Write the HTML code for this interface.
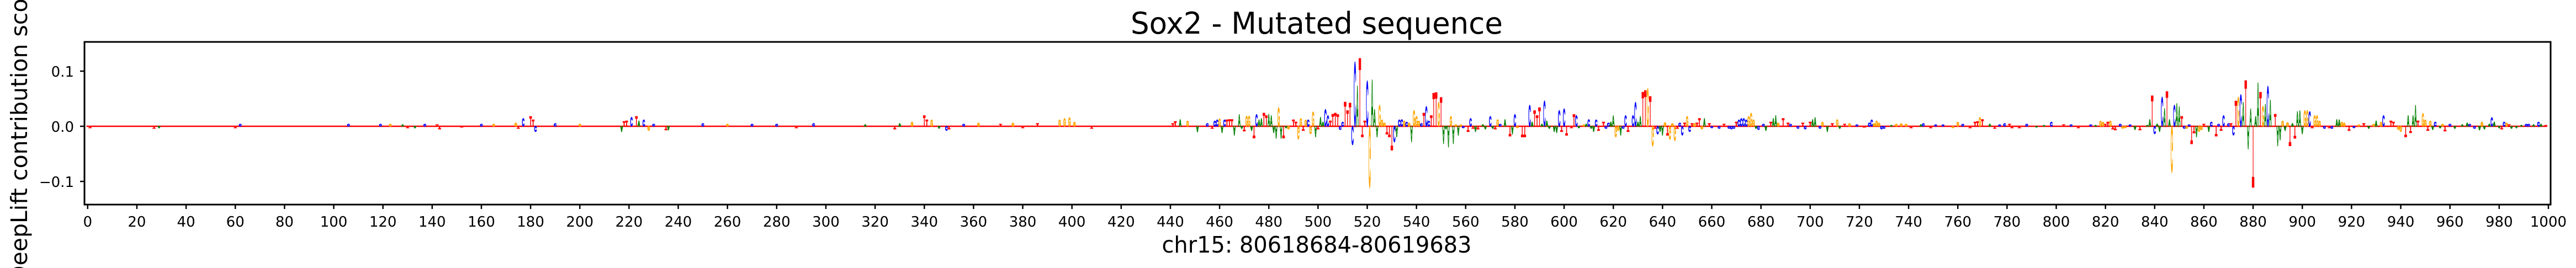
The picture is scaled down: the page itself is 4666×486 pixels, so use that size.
<!DOCTYPE html>
<html><head><meta charset="utf-8"><title>Sox2 - Mutated sequence</title>
<style>html,body{margin:0;padding:0;background:#fff;overflow:hidden;width:4666px;height:486px;}svg{display:block;overflow:hidden;}text{font-family:"DejaVu Sans","Liberation Sans",sans-serif;}</style>
</head><body>
<svg id="chart" xmlns="http://www.w3.org/2000/svg" width="4666" height="486" viewBox="0 0 4666 486">
<rect width="4666" height="486" fill="#fff"/>
<text x="2385" y="61" font-size="54" text-anchor="middle" textLength="674" lengthAdjust="spacingAndGlyphs">Sox2 - Mutated sequence</text>
<text x="2385" y="458" font-size="41" text-anchor="middle" textLength="561" lengthAdjust="spacingAndGlyphs">chr15: 80618684-80619683</text>
<text transform="translate(49,224) rotate(-90)" font-size="41" text-anchor="middle">DeepLift contribution scores</text>
<g id="plot"></g>
<g id="axes"></g>
</svg>
<script>
const categories = ["A","C","G","T"];
const baseColors = ["#008000","#0000ff","#ffa500","#ff0000"];
const xTickValues = [0,20,40,60,80,100,120,140,160,180,200,220,240,260,280,300,320,340,360,380,400,420,440,460,480,500,520,540,560,580,600,620,640,660,680,700,720,740,760,780,800,820,840,860,880,900,920,940,960,980,1000];
const yTickValues = [-0.1,0.0,0.1];
const yTickLabels = ["\u22120.1","0.0","0.1"];
const logoEntries = [
[1,'T',-0.003],[27,'T',-0.004],[29,'A',-0.003],[60,'T',-0.003],[62,'C',0.004],[106,'C',0.004],[119,'C',0.004],[123,'G',0.004],[128,'A',0.003],[130,'T',-0.003],[133,'A',-0.003],[137,'C',0.004],[142,'T',0.003],[143,'T',-0.005],
[152,'T',-0.002],[160,'C',0.004],[165,'G',0.004],[174,'G',0.006],[175,'T',-0.004],[177,'C',0.015],[180,'T',0.018],[181,'T',0.012],[182,'C',-0.01],[190,'C',0.005],[200,'G',0.004],
[217,'A',-0.01],[218,'T',0.009],[219,'T',0.01],[221,'C',0.017],[223,'T',0.018],[224,'A',0.01],[226,'C',0.012],[228,'G',-0.008],[230,'C',0.004],[235,'T',-0.007],[236,'A',-0.007],[250,'C',0.005],[260,'G',0.004],[270,'C',0.004],[280,'C',0.004],[288,'T',-0.003],[295,'C',0.005],
[316,'A',0.003],[328,'T',-0.005],[330,'A',0.005],[335,'G',0.008],[340,'T',0.02],[341,'T',0.012],[343,'G',0.012],[346,'A',-0.004],[349,'C',-0.008],[350,'T',-0.005],[356,'C',0.004],[362,'G',0.006],[371,'T',0.004],[376,'G',0.006],[380,'T',-0.003],[386,'T',0.005],[395,'G',0.012],[397,'G',0.015],[399,'G',0.016],[401,'G',0.008],[408,'T',-0.004],
[441,'T',0.005],[442,'T',0.009],[444,'A',0.013],[447,'G',0.01],[451,'A',-0.011],[455,'C',0.005],[457,'T',-0.004],[458,'C',0.01],[459,'C',0.012],[460,'G',0.014],[461,'A',-0.012],[462,'C',0.012],[463,'T',0.012],[464,'T',0.013],[465,'T',0.013],[466,'A',-0.017],[468,'A',0.022],[469,'A',-0.004],[470,'T',-0.009],[471,'G',0.019],[472,'G',0.019],[473,'A',-0.008],[474,'T',-0.022],[475,'C',0.022],[476,'A',0.012],[477,'A',0.015],[478,'T',0.025],[479,'T',0.02],[480,'A',0.023],[481,'A',0.02],[482,'A',-0.012],[483,'A',-0.023],[484,'G',0.035],[485,'A',-0.023],[486,'T',-0.022],[487,'A',-0.003],[488,'G',-0.005],[490,'T',0.012],[491,'T',0.008],[492,'G',-0.024],[493,'G',0.015],[494,'T',-0.008],[495,'G',0.012],[496,'C',0.012],[497,'G',-0.014],[498,'G',0.027],[499,'A',-0.02],[500,'T',-0.005],[501,'A',0.017],[502,'A',0.008],[503,'C',0.032],[504,'C',0.02],[505,'T',0.01],[506,'T',0.023],[507,'T',0.025],[508,'T',0.022],[509,'C',-0.006],[510,'C',0.008],[511,'T',0.046],[512,'T',0.03],[513,'T',0.044],[514,'C',-0.035],[515,'C',0.122],[516,'A',0.077],[517,'T',0.130],[518,'T',-0.02],[519,'T',0.01],[520,'C',0.086],[521,'G',-0.117],[522,'A',0.089],
[523,'A',0.032],[524,'A',-0.02],[525,'G',0.04],[526,'G',0.012],[527,'G',0.006],[528,'T',-0.015],[529,'T',-0.02],[530,'T',-0.045],[531,'C',-0.03],[532,'A',-0.02],[533,'C',0.012],[534,'C',0.013],[535,'G',0.01],[536,'C',0.008],[537,'G',0.006],[538,'A',-0.03],[539,'G',0.03],[540,'G',0.018],[541,'G',0.01],[542,'C',0.005],[543,'T',0.025],[544,'C',0.037],[545,'C',0.01],[546,'T',0.02],[547,'T',0.063],[548,'T',0.064],[549,'G',0.045],[550,'T',0.055],[551,'A',-0.033],[552,'A',-0.005],[553,'A',-0.04],[554,'G',0.018],[555,'A',-0.033],[556,'G',0.003],[557,'A',-0.017],[558,'G',0.003],[559,'C',-0.003],[561,'T',-0.01],[562,'C',0.015],[563,'T',-0.004],[564,'A',-0.01],[565,'T',-0.005],[567,'A',0.003],[568,'A',-0.005],[570,'C',0.018],[571,'A',-0.004],[572,'T',-0.005],[573,'G',0.013],[574,'C',0.004],[576,'A',0.013],[578,'T',-0.018],[579,'A',-0.015],[580,'C',0.022],[581,'G',-0.003],[583,'T',-0.02],[584,'T',-0.02],[586,'C',0.04],[587,'A',0.008],[588,'T',0.03],[589,'T',0.02],[590,'T',0.035],[591,'A',0.004],[592,'C',0.048],[593,'A',0.01],[594,'A',-0.004],[596,'A',-0.01],[597,'A',-0.012],[598,'C',0.03],[599,'T',-0.01],[600,'C',0.033],[601,'T',-0.017],[603,'T',-0.003],[604,'T',0.022],[605,'C',0.02],[606,'A',-0.003],[608,'G',0.003],[609,'A',0.004],[610,'C',0.013],[611,'A',-0.004],[612,'A',-0.01],
[613,'C',0.012],[614,'T',-0.008],[616,'T',0.008],[617,'C',-0.004],[618,'C',0.006],[619,'A',0.008],[620,'A',0.02],[621,'G',-0.02],[622,'G',-0.008],[623,'A',-0.017],[624,'C',-0.004],[625,'C',0.02],[626,'T',-0.01],[628,'C',0.02],[629,'C',0.045],[630,'A',0.008],[631,'A',0.018],[632,'T',0.065],[633,'T',0.068],[634,'G',0.072],[635,'T',0.057],[636,'G',-0.037],[637,'T',-0.004],[638,'C',-0.015],[639,'A',-0.01],[640,'A',-0.017],[641,'G',0.007],[642,'T',-0.017],[643,'G',-0.025],[644,'G',0.005],[645,'G',-0.027],[646,'T',-0.004],[647,'C',0.006],[648,'C',-0.017],[649,'T',0.006],[650,'G',0.018],[651,'C',-0.01],[652,'T',0.005],[653,'G',0.005],[654,'T',0.006],[655,'T',0.015],[656,'G',-0.005],[657,'A',0.015],[659,'T',0.005],[660,'C',-0.003],[663,'C',-0.004],[665,'T',0.004],[667,'C',-0.004],[668,'C',-0.005],[669,'C',-0.004],[670,'T',0.008],[671,'C',0.012],[672,'C',0.015],[673,'C',0.015],[674,'C',0.012],[675,'G',0.018],[676,'G',0.025],[677,'G',0.012],[678,'A',-0.004],[679,'C',-0.006],[681,'C',0.004],[682,'A',-0.008],[684,'T',0.008],[685,'A',0.015],[686,'A',0.02],[687,'G',0.006],[689,'T',0.015],[691,'T',0.006],[692,'C',0.004],[695,'C',-0.004],[697,'T',0.006],[698,'C',-0.005],[700,'T',0.008],[701,'A',0.013],[702,'A',0.016],[704,'C',-0.004],[705,'G',0.008],[707,'A',-0.01],[709,'T',0.005],[711,'G',0.013],[712,'A',-0.004],[714,'T',0.004],[716,'G',0.005],
[719,'C',0.003],[722,'T',-0.002],[724,'C',0.006],[725,'C',0.012],[726,'G',0.005],[727,'G',0.01],[728,'G',0.006],[729,'C',-0.005],[730,'C',-0.004],[733,'A',0.002],[735,'G',0.004],[737,'G',0.005],[739,'G',0.004],[741,'T',-0.003],[745,'A',0.003],[746,'C',0.005],[749,'T',-0.003],[751,'C',0.003],[754,'C',0.003],[758,'G',-0.003],[760,'G',0.008],[762,'C',0.004],[765,'T',-0.003],[767,'T',0.008],[768,'T',0.009],[769,'G',0.017],[770,'T',0.013],[773,'A',0.004],[775,'T',-0.004],[777,'C',0.003],[779,'C',0.005],[781,'T',0.004],[782,'T',-0.003],[785,'T',-0.003],[788,'C',0.004],[792,'A',-0.002],[795,'A',0.002],[798,'C',0.008],[803,'T',0.003],[806,'C',0.003],[809,'T',-0.003],
[814,'C',0.003],[816,'A',0.002],[818,'G',0.01],[819,'G',0.008],[820,'T',0.004],[821,'T',0.008],[822,'G',0.01],[823,'T',-0.005],[824,'T',-0.007],[826,'C',0.004],[827,'G',-0.004],[828,'G',-0.003],[830,'C',0.003],[832,'A',-0.006],[834,'T',-0.007],[837,'A',0.002],[838,'A',0.013],[839,'T',0.058],[840,'C',-0.014],[841,'A',0.004],[842,'A',-0.01],[843,'C',0.055],[844,'A',0.034],[845,'T',0.066],[846,'A',0.013],[847,'G',-0.087],[848,'C',0.04],[849,'A',0.043],[850,'A',0.037],[851,'T',0.018],[852,'C',-0.004],[853,'G',-0.004],[854,'C',0.003],[855,'T',-0.033],[856,'T',-0.013],[857,'A',-0.02],[858,'G',-0.01],[859,'G',-0.007],[860,'T',0.004],[862,'A',-0.01],[863,'C',0.008],[865,'T',-0.018],[866,'C',0.004],[867,'T',-0.008],[868,'C',0.02],[870,'C',0.005],[871,'T',0.005],[872,'C',-0.017],[873,'T',0.048],[874,'G',0.055],[875,'C',0.06],[876,'A',0.045],[877,'T',0.087],[878,'A',-0.043],[879,'A',0.033],[880,'T',-0.117],[881,'A',0.018],[882,'A',0.083],[883,'T',0.065],[884,'G',0.038],[885,'A',0.042],[886,'C',0.076],[887,'A',0.05],[889,'T',0.023],[890,'A',-0.037],[891,'A',-0.026],[892,'G',0.01],[893,'A',-0.008],[894,'G',0.007],[895,'T',-0.037],[896,'A',0.005],[897,'T',-0.023],[898,'A',0.028],[899,'A',0.03],[900,'A',-0.014],[901,'G',0.03],[902,'G',0.03],[903,'C',0.028],[904,'T',-0.003],[905,'G',0.02],[906,'G',0.02],
[907,'G',0.01],[909,'C',-0.004],[911,'T',-0.003],[912,'C',-0.004],[914,'A',0.013],[915,'A',0.012],[916,'G',0.008],[917,'G',0.006],[919,'T',-0.008],[921,'C',-0.003],[923,'G',0.003],[925,'T',0.005],[927,'A',-0.004],[929,'G',0.004],[930,'A',0.01],[932,'G',0.008],[933,'C',0.02],[936,'T',0.01],[937,'T',0.008],[939,'G',-0.006],[940,'G',-0.01],[942,'T',-0.02],[943,'A',0.02],[944,'T',-0.012],[945,'A',0.02],[946,'A',0.04],[947,'T',0.01],[949,'G',0.024],[950,'G',0.012],[951,'T',-0.008],[952,'G',0.01],[953,'A',-0.006],[954,'C',0.008],[956,'A',-0.003],[957,'G',0.004],[958,'T',-0.009],[960,'C',0.004],[962,'A',-0.004],[965,'A',0.003],[967,'A',0.006],[968,'C',0.004],[970,'C',-0.004],[972,'A',-0.007],[973,'G',0.008],[974,'A',-0.005],[976,'A',0.004],[977,'C',0.016],[978,'A',0.008],[980,'A',-0.003],[981,'T',-0.005],[982,'C',0.008],[983,'G',0.006],[984,'T',0.003],[985,'A',-0.004],[987,'A',-0.003],[989,'A',0.002],[991,'C',0.004],[992,'C',0.004],[994,'A',0.003],[996,'C',0.008],[997,'A',0.004],[999,'T',0.002]
];

const NS = "http://www.w3.org/2000/svg";
const AX = {left:153, right:4620, top:76, bottom:371};
const XMIN = -1.3, XMAX = 1000.9, YMIN = -0.142, YMAX = 0.153;
function xScale(v){ return AX.left + (v - XMIN) / (XMAX - XMIN) * (AX.right - AX.left); }
function yScale(v){ return AX.bottom - (v - YMIN) / (YMAX - YMIN) * (AX.bottom - AX.top); }
function mk(tag, attrs){ const e = document.createElementNS(NS, tag); for (const k in attrs) e.setAttribute(k, attrs[k]); return e; }

const plot = document.getElementById('plot');
const axes = document.getElementById('axes');
const unit = xScale(1) - xScale(0);
const y0 = yScale(0);

// baseline
const base = mk('line', {x1: xScale(-0.5), x2: xScale(999.5), y1: y0, y2: y0, stroke: '#ff0000', 'stroke-width': 2.5});


plot.appendChild(base);

const CAP = 72.9;
logoEntries.forEach(function(d){
  const pos = d[0], b = d[1], v = d[2];
  const ci = categories.indexOf(b);
  const hpx = Math.abs(yScale(v) - y0);
  if (hpx < 0.3) return;
  const w = unit * 1.0;
  const sx = w / 70, sy = hpx / CAP;
  const xl = xScale(pos) - w / 2;
  const t = mk('text', {
    x: 0, y: 0, 'font-size': 100, 'font-weight': 'bold',
    fill: baseColors[ci], stroke: baseColors[ci], 'stroke-width': 1.2, 'vector-effect': 'non-scaling-stroke',
    textLength: 70, lengthAdjust: 'spacingAndGlyphs',
    transform: 'translate(' + xl + ',' + y0 + ') scale(' + sx + ',' + (v >= 0 ? sy : -sy) + ')'
  });
  t.style.fontFamily = '"Liberation Sans", sans-serif';
  t.textContent = b;
  
  
  plot.appendChild(t);
});

// frame
const frame = mk('rect', {x: AX.left, y: AX.top, width: AX.right - AX.left, height: AX.bottom - AX.top, fill: 'none', stroke: '#000', 'stroke-width': 3});


axes.appendChild(frame);

xTickValues.forEach(function(v){
  const x = xScale(v);
  const tk = mk('line', {x1: x, x2: x, y1: AX.bottom, y2: AX.bottom + 8, stroke: '#000', 'stroke-width': 2.5});
  
  
  axes.appendChild(tk);
  const lb = mk('text', {x: x, y: 411, 'font-size': 26, 'text-anchor': 'middle', fill: '#000'});
  lb.textContent = String(v);
  
  
  axes.appendChild(lb);
});

yTickValues.forEach(function(v, i){
  const y = yScale(v);
  const tk = mk('line', {x1: AX.left - 8, x2: AX.left, y1: y, y2: y, stroke: '#000', 'stroke-width': 2.5});
  
  
  axes.appendChild(tk);
  const lb = mk('text', {x: 134, y: y + 10, 'font-size': 26, 'text-anchor': 'end', fill: '#000'});
  lb.textContent = yTickLabels[i];
  
  
  axes.appendChild(lb);
});
</script>
</body></html>
